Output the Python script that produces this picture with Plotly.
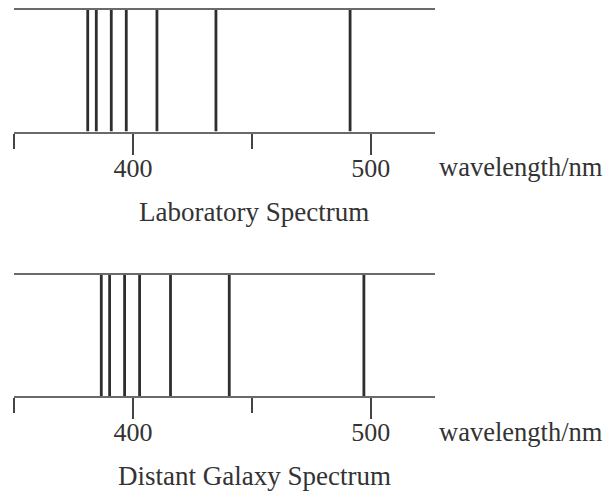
import plotly.graph_objects as go

# ---- data ----
lab_lines = [381.0, 384.6, 390.9, 397.2, 410.1, 434.9, 491.3]
galaxy_lines = [386.7, 390.2, 396.5, 402.8, 415.8, 440.5, 497.1]
major_ticks = [400, 500]
major_labels = ["400", "500"]
minor_ticks = [350, 450]
x_range = [350, 527]
panel_titles = ["Laboratory Spectrum", "Distant Galaxy Spectrum"]
axis_label = "wavelength/nm"

W, H = 605, 491
FONT = "Liberation Serif"
TXT = "#333333"

fig = go.Figure()

def seg(vals):
    xs, ys = [], []
    for v in vals:
        xs += [v, v, None]
        ys += [0, 1, None]
    return xs, ys

# panel geometry in pixels (top line, bottom line)
panels = [(10, 131.5), (275, 396)]
x0px, x1px = 14, 435

for i, (series, (top, bot)) in enumerate(zip([lab_lines, galaxy_lines], panels)):
    xa = "x" if i == 0 else "x2"
    ya = "y" if i == 0 else "y2"
    xs, ys = seg(series)
    fig.add_trace(go.Scatter(x=xs, y=ys, mode="lines", xaxis=xa, yaxis=ya,
                             line=dict(color="#2e2e2e", width=2.8),
                             hoverinfo="skip", showlegend=False))
    xkey = "xaxis" if i == 0 else "xaxis2"
    ykey = "yaxis" if i == 0 else "yaxis2"
    fig.update_layout(**{
        xkey: dict(domain=[x0px / W, x1px / W], range=x_range, anchor=ya,
                   showline=True, mirror=True, linecolor="#6a6a6a", linewidth=2,
                   showgrid=False, zeroline=False,
                   tickmode="array", tickvals=major_ticks, ticktext=major_labels,
                   ticks="outside", ticklen=21, tickwidth=2, tickcolor="#444444",
                   tickfont=dict(family=FONT, size=26, color=TXT),
                   ticklabelstandoff=-9,
                   minor=dict(tickmode="array", tickvals=minor_ticks, ticks="outside",
                              ticklen=15, tickwidth=2, tickcolor="#444444",
                              showgrid=False),
                   fixedrange=True),
        ykey: dict(domain=[1 - bot / H, 1 - top / H], range=[0, 1], anchor=xa,
                   visible=False, showgrid=False, zeroline=False, fixedrange=True),
    })
    # axis unit label
    fig.add_annotation(text=axis_label, xref="paper", yref="paper",
                       x=437 / W, y=1 - (bot + 36) / H, xanchor="left", yanchor="middle",
                       showarrow=False, font=dict(family=FONT, size=26.5, color=TXT))
    # panel title
    fig.add_annotation(text=panel_titles[i], xref="paper", yref="paper",
                       x=254 / W, y=1 - (bot + 80) / H, xanchor="center", yanchor="middle",
                       showarrow=False, font=dict(family=FONT, size=27, color=TXT))

fig.update_layout(width=W, height=H, margin=dict(l=0, r=0, t=0, b=0),
                  paper_bgcolor="white", plot_bgcolor="white", showlegend=False)

fig.write_html("out.html", config={"displayModeBar": False},
               post_script="document.body.style.margin='0px';")
